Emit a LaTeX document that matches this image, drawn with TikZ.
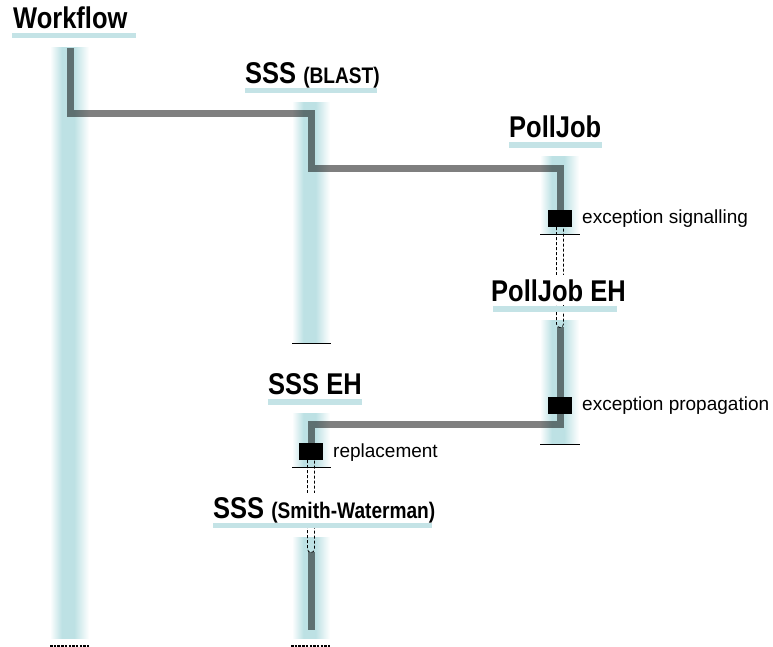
\documentclass[tikz,border=0pt]{standalone}
\usepackage{fontspec}
\setmainfont{Liberation Sans}
\newfontfamily\titlefont[FakeStretch=0.85]{Liberation Sans Bold}
\definecolor{bandc}{HTML}{BDE1E4}
\definecolor{ulc}{HTML}{C4E3E6}
\pgfdeclarehorizontalshading{lifeband}{100bp}{color(0bp)=(white); color(25bp)=(white); color(40bp)=(bandc); color(56bp)=(bandc); color(75bp)=(white); color(100bp)=(white)}
\begin{document}
\begin{tikzpicture}[x=1pt,y=-1pt,
  lifelinebg/.style={shading=lifeband},
  flow/.style={line width=7pt, draw=black, draw opacity=0.5, line cap=butt, line join=miter},
  outline/.style={line width=0.7pt, dash pattern=on 3pt off 2pt},
  endbar/.style={line width=1pt},
  enddash/.style={line width=1.5pt, dash pattern=on 2.5pt off 1.2pt},
  exc/.style={fill=black, minimum width=24pt, minimum height=17pt, inner sep=0pt},
  title/.style={font=\titlefont\fontsize{30}{32}\selectfont, fill=white, inner xsep=0pt, inner ysep=4pt, anchor=base west},
  sub/.style={},
  uline/.style={fill=ulc},
  lbl/.style={font=\fontsize{19}{22}\selectfont, anchor=base west, inner sep=0pt}]
\useasboundingbox (0,0) rectangle (773,647);
% lifeline bands
\shade[lifelinebg] (50,48) rectangle (89,638);
\shade[lifelinebg] (292,103) rectangle (330,343);
\shade[lifelinebg] (540,157) rectangle (579,234);
\shade[lifelinebg] (540,320) rectangle (579,444);
\shade[lifelinebg] (292,413) rectangle (330,467);
\shade[lifelinebg] (292,537) rectangle (330,638);
% end bars
\draw[endbar] (292,343) -- (331,343);
\draw[endbar] (540,234) -- (580,234);
\draw[endbar] (540,444) -- (580,444);
\draw[endbar] (292,467) -- (331,467);
\draw[enddash] (50,646) -- (89,646);
\draw[enddash] (291,646) -- (330,646);
% dashed outlines (exception paths)
\draw[outline] (556.5,227) -- (556.5,324) arc (180:0:3.5) -- (563.5,227);
\draw[outline] (307.5,460) -- (307.5,549) arc (180:0:3.5) -- (314.5,460);
% exception boxes
\node[exc] (sig) at (560,218.5) {};
\node[exc] (prop) at (560,405.5) {};
\node[exc] (repl) at (311,451.5) {};
% flow coordinates
\coordinate (w0) at (70,48);
\coordinate (w1) at (70,114);
\coordinate (b1) at (311,114);
\coordinate (b2) at (311,168.5);
\coordinate (p1) at (560,168.5);
\coordinate (pe0) at (560,327);
\coordinate (pe1) at (560,424.5);
\coordinate (se1) at (311,424.5);
\coordinate (sw0) at (311,552);
\coordinate (sw1) at (311,630);
\draw[flow] (w0) -- (w1) -- (b1) -- (b2) -- (p1) -- (sig.north);
\draw[flow] (pe0) -- (prop.north);
\draw[flow] (prop.south) -- (pe1) -- (se1) -- (repl.north);
\draw[flow] (sw0) -- (sw1);
\node[exc] at (sig) {};
\node[exc] at (prop) {};
\node[exc] at (repl) {};
% titles
\node[title] (tw) at (13,29) {Workflow};
\fill[uline] (12,33) rectangle (136,38);
\node[title] (tb) at (245,84) {SSS {\fontsize{22.5}{24}\selectfont(BLAST)}};
\fill[uline] (245,88) rectangle (377,93);
\node[title] (tp) at (509,138) {PollJob};
\fill[uline] (509,142) rectangle (602,148);
\node[title] (tpe) at (491,301) {PollJob EH};
\fill[uline] (493,306) rectangle (617,312);
\node[title] (tse) at (268,394) {SSS EH};
\fill[uline] (268,399) rectangle (362,405);
\node[title] (tsw) at (213,518) {SSS {\fontsize{22.5}{24}\selectfont(Smith-Waterman)}};
\fill[uline] (213,523) rectangle (432,528);
% labels
\node[lbl] (lsig) at (582,223) {exception signalling};
\node[lbl] (lprop) at (582,410) {exception propagation};
\node[lbl] (lrepl) at (333,457) {replacement};
\end{tikzpicture}
\end{document}
